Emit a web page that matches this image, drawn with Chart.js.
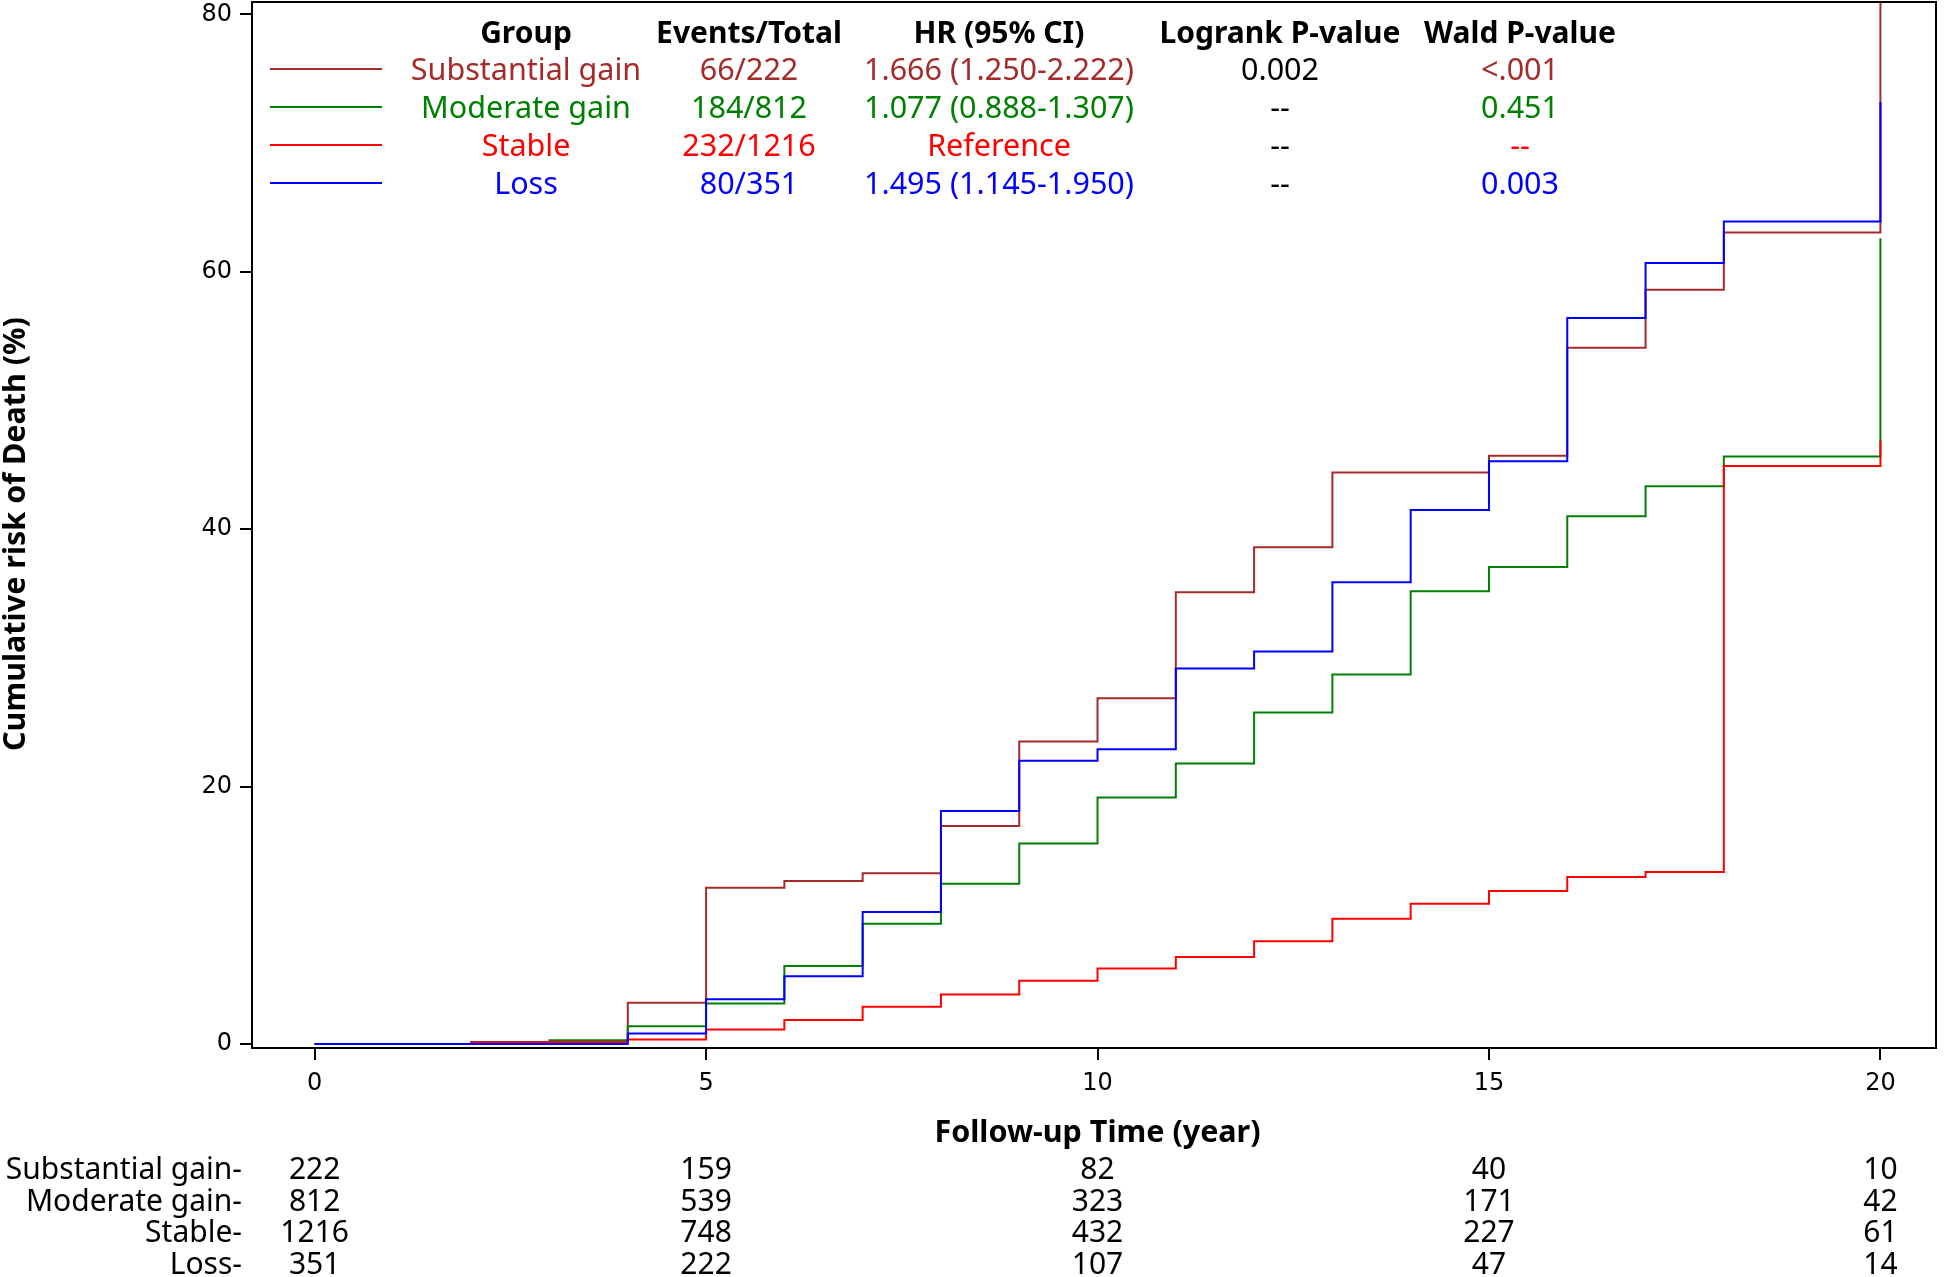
<!DOCTYPE html>
<html>
<head>
<meta charset="utf-8">
<script src="https://cdn.jsdelivr.net/npm/chart.js@4.4.1/dist/chart.umd.min.js"></script>
<style>
  html, body { margin: 0; padding: 0; background: #fff; }
  #wrap { width: 1944px; height: 1277px; }
</style>
</head>
<body>
<div id="wrap"><canvas id="kmChart" width="1944" height="1277"></canvas></div>
<script>
// follow-up years; value at year k holds until year k+1
const years = [0, 1, 2, 3, 4, 5, 6, 7, 8, 9, 10, 11, 12, 13, 14, 15, 16, 17, 18, 19, 20];

const substantialGain = [0, 0, 0.15, 0.15, 3.2, 12.15, 12.67, 13.26, 16.94, 23.5, 26.86, 35.1, 38.6, 44.4, 44.4, 45.7, 54.1, 58.6, 63.05, 63.05, 100];
const moderateGain    = [0, 0, 0, 0.29, 1.38, 3.15, 6.06, 9.35, 12.46, 15.57, 19.15, 21.79, 25.75, 28.7, 35.17, 37.06, 41.0, 43.33, 45.64, 45.64, 62.6];
const stable          = [0, 0, 0.1, 0.15, 0.35, 1.13, 1.87, 2.9, 3.84, 4.92, 5.86, 6.76, 7.98, 9.74, 10.9, 11.89, 12.98, 13.37, 44.9, 44.9, 46.9];
const loss            = [0, 0, 0, 0, 0.82, 3.47, 5.26, 10.26, 18.1, 22.0, 22.9, 29.17, 30.5, 35.87, 41.5, 45.28, 56.4, 60.68, 63.9, 63.9, 73.2];

const yTicks = [0, 20, 40, 60, 80];
const xTicks = [0, 5, 10, 15, 20];

// legend table
const groups = ['Substantial gain', 'Moderate gain', 'Stable', 'Loss'];
const groupColors = ['#A52A2A', '#008000', '#FF0000', '#0000FF'];
const eventsTotal = ['66/222', '184/812', '232/1216', '80/351'];
const hrCI = ['1.666 (1.250-2.222)', '1.077 (0.888-1.307)', 'Reference', '1.495 (1.145-1.950)'];
const logrankP = ['0.002', '--', '--', '--'];
const waldP = ['<.001', '0.451', '--', '0.003'];
const tableHeaders = ['Group', 'Events/Total', 'HR (95% CI)', 'Logrank P-value', 'Wald P-value'];

// number at risk
const atRiskTimes = [0, 5, 10, 15, 20];
const atRisk = [
  [222, 159, 82, 40, 10],
  [812, 539, 323, 171, 42],
  [1216, 748, 432, 227, 61],
  [351, 222, 107, 47, 14]
];

const FONT = '"Noto Sans", "DejaVu Sans", sans-serif';
const TICK_FONT = '"DejaVu Sans", sans-serif';

function toPoints(vals) {
  return years.map((x, i) => ({ x: x, y: vals[i] }));
}

const seriesList = [substantialGain, moderateGain, stable, loss];
const drawOrder = [3, 2, 1, 0];

const datasets = seriesList.map((vals, i) => ({
  label: groups[i],
  data: toPoints(vals),
  borderColor: groupColors[i],
  backgroundColor: groupColors[i],
  borderWidth: 2,
  pointRadius: 0,
  stepped: 'before',
  fill: false,
  order: drawOrder[i]
}));

const decorPlugin = {
  id: 'decor',
  afterDraw(chart) {
    const ctx = chart.ctx;
    const a = chart.chartArea;
    const xs = chart.scales.x;
    ctx.save();

    // frame
    ctx.strokeStyle = '#000';
    ctx.lineWidth = 2;
    ctx.strokeRect(a.left, a.top, a.right - a.left, a.bottom - a.top);

    // legend table
    const colX = [526, 749, 999, 1280, 1520];
    ctx.textAlign = 'center';
    ctx.textBaseline = 'alphabetic';
    ctx.font = 'bold 30px ' + FONT;
    ctx.fillStyle = '#000';
    tableHeaders.forEach((h, j) => ctx.fillText(h, colX[j], 43));

    ctx.font = '30.5px ' + FONT;
    groups.forEach((g, i) => {
      const base = 80 + i * 38;
      const c = groupColors[i];
      ctx.strokeStyle = c;
      ctx.lineWidth = 2;
      ctx.beginPath();
      ctx.moveTo(270, base - 11);
      ctx.lineTo(382, base - 11);
      ctx.stroke();
      ctx.fillStyle = c;
      ctx.fillText(g, colX[0], base);
      ctx.fillText(eventsTotal[i], colX[1], base);
      ctx.fillText(hrCI[i], colX[2], base);
      ctx.fillStyle = '#000';
      ctx.fillText(logrankP[i], colX[3], base);
      ctx.fillStyle = c;
      ctx.fillText(waldP[i], colX[4], base);
    });

    // axis titles
    ctx.fillStyle = '#000';
    ctx.font = 'bold 30.5px ' + FONT;
    ctx.textAlign = 'center';
    ctx.textBaseline = 'middle';
    ctx.fillText('Follow-up Time (year)', xs.getPixelForValue(10), 1133);

    ctx.save();
    ctx.translate(16, 534);
    ctx.rotate(-Math.PI / 2);
    ctx.fillText('Cumulative risk of Death (%)', 0, 0);
    ctx.restore();

    // number at risk
    ctx.font = '30px ' + FONT;
    ctx.textBaseline = 'alphabetic';
    groups.forEach((g, i) => {
      const base = 1179 + i * 31.7;
      ctx.textAlign = 'right';
      ctx.fillText(g + '-', 242, base);
      ctx.textAlign = 'center';
      atRiskTimes.forEach((t, j) => {
        ctx.fillText(String(atRisk[i][j]), xs.getPixelForValue(t), base);
      });
    });

    ctx.restore();
  }
};

const ctx = document.getElementById('kmChart').getContext('2d');
new Chart(ctx, {
  type: 'line',
  data: { datasets: datasets },
  options: {
    responsive: false,
    animation: false,
    devicePixelRatio: 1,
    layout: { padding: { left: 0, top: 2, right: 8, bottom: 0 } },
    plugins: {
      legend: { display: false },
      tooltip: { enabled: false }
    },
    scales: {
      x: {
        type: 'linear',
        min: -0.8,
        max: 20.71,
        afterBuildTicks: (scale) => { scale.ticks = xTicks.map(v => ({ value: v })); },
        afterFit: (scale) => { scale.height = 229; scale.paddingLeft = 0; scale.paddingRight = 0; },
        border: { display: false },
        grid: { display: true, drawOnChartArea: false, drawTicks: true, tickLength: 12, color: '#000', lineWidth: 2 },
        ticks: { color: '#000', font: { family: TICK_FONT, size: 24 }, padding: 9, maxRotation: 0 }
      },
      y: {
        type: 'linear',
        min: -0.31,
        max: 80.96,
        afterBuildTicks: (scale) => { scale.ticks = yTicks.map(v => ({ value: v })); },
        afterFit: (scale) => { scale.width = 252; scale.paddingTop = 0; scale.paddingBottom = 0; },
        border: { display: false },
        grid: { display: true, drawOnChartArea: false, drawTicks: true, tickLength: 12, color: '#000', lineWidth: 2 },
        ticks: { color: '#000', font: { family: TICK_FONT, size: 24 }, padding: 8 }
      }
    }
  },
  plugins: [decorPlugin]
});
</script>
</body>
</html>
